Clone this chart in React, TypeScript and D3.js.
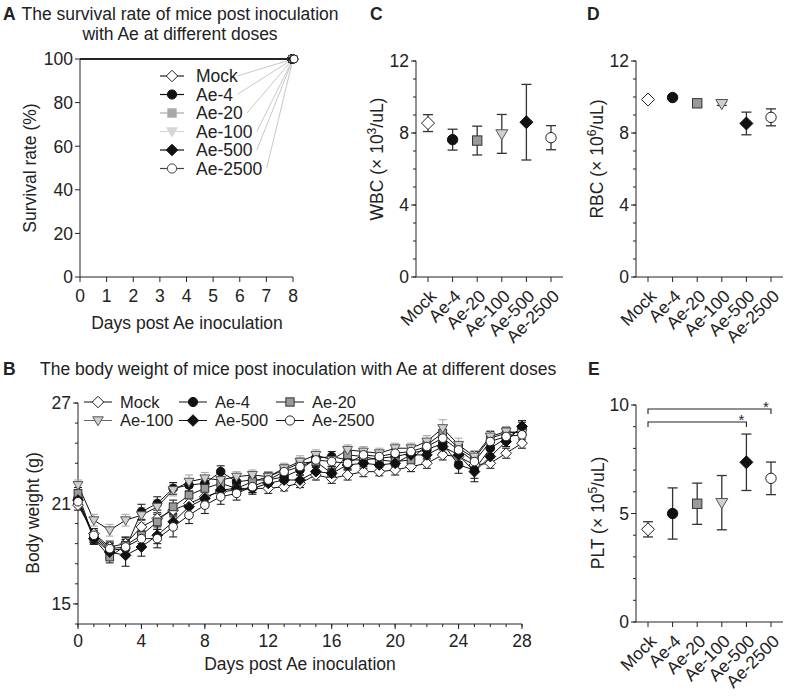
import React from "react";
import * as d3 from "d3";

const FONT = "'Liberation Sans', Arial, Helvetica, sans-serif";
const FS = 17.5;
const INK = "#222";

// groups shared by all panels
const groups = ["Mock", "Ae-4", "Ae-20", "Ae-100", "Ae-500", "Ae-2500"];

// A: survival
const survivalDays = [0, 8];
const survivalRate = [100, 100];

// B: body weight (g), days 0..28
const days = [0, 1, 2, 3, 4, 5, 6, 7, 8, 9, 10, 11, 12, 13, 14, 15, 16, 17, 18, 19, 20, 21, 22, 23, 24, 25, 26, 27, 28];
const weightMock = [20.9, 19.2, 18.4, 18.6, 19.6, 20.1, 20.6, 21.0, 21.4, 21.7, 21.8, 21.9, 21.9, 22.0, 22.2, 22.7, 22.5, 22.7, 22.9, 22.9, 23.0, 23.2, 23.4, 23.9, 23.8, 23.3, 23.4, 24.0, 24.6];
const weightAe4 = [21.3, 19.0, 18.2, 18.3, 20.5, 21.0, 21.9, 22.1, 22.2, 22.9, 22.3, 22.4, 22.4, 22.6, 23.0, 23.7, 23.8, 23.6, 23.6, 23.7, 23.8, 24.0, 24.2, 24.6, 23.3, 23.0, 24.3, 24.9, 25.5];
const weightAe20 = [21.6, 18.9, 17.8, 18.5, 19.1, 19.9, 20.8, 21.5, 21.9, 22.2, 21.9, 22.3, 22.6, 23.0, 23.4, 23.5, 22.8, 23.9, 23.8, 23.6, 23.5, 23.6, 24.5, 25.2, 24.3, 23.7, 24.9, 25.2, 25.3];
const weightAe100 = [22.1, 20.0, 19.4, 20.0, 20.3, 20.8, 21.8, 22.3, 22.5, 22.4, 22.6, 22.7, 22.6, 23.1, 23.5, 23.9, 23.6, 24.2, 24.1, 24.0, 24.3, 24.3, 24.7, 25.5, 24.5, 23.8, 25.0, 25.3, 25.2];
const weightAe500 = [21.2, 18.9, 18.1, 17.9, 18.4, 19.1, 19.9, 20.8, 21.3, 21.8, 21.9, 21.9, 22.2, 22.4, 22.4, 22.9, 22.8, 23.3, 23.4, 23.3, 23.4, 23.9, 23.9, 24.4, 23.9, 22.9, 23.8, 24.7, 25.6];
const weightAe2500 = [21.1, 19.1, 18.3, 18.4, 18.9, 18.9, 19.6, 20.3, 20.9, 21.4, 21.6, 22.0, 22.4, 22.9, 23.2, 23.6, 23.5, 23.4, 23.9, 23.8, 24.0, 24.1, 24.4, 24.9, 24.2, 23.5, 24.7, 25.0, 25.1];
const sdMock = [0.3, 0.3, 0.35, 0.35, 0.4, 0.35, 0.3, 0.3, 0.3, 0.3, 0.3, 0.25, 0.3, 0.25, 0.25, 0.3, 0.3, 0.3, 0.3, 0.25, 0.3, 0.3, 0.3, 0.3, 0.3, 0.3, 0.3, 0.3, 0.3];
const sdAe4 = [0.3, 0.35, 0.4, 0.45, 0.45, 0.4, 0.35, 0.35, 0.4, 0.35, 0.3, 0.3, 0.35, 0.3, 0.3, 0.35, 0.3, 0.35, 0.3, 0.3, 0.3, 0.35, 0.3, 0.35, 0.5, 0.5, 0.35, 0.3, 0.35];
const sdAe20 = [0.35, 0.3, 0.35, 0.5, 0.5, 0.45, 0.4, 0.45, 0.4, 0.35, 0.3, 0.3, 0.3, 0.3, 0.3, 0.35, 0.4, 0.35, 0.3, 0.3, 0.3, 0.4, 0.3, 0.4, 0.35, 0.4, 0.4, 0.35, 0.3];
const sdAe100 = [0.3, 0.35, 0.35, 0.35, 0.45, 0.4, 0.35, 0.4, 0.35, 0.35, 0.3, 0.3, 0.3, 0.3, 0.35, 0.3, 0.35, 0.3, 0.3, 0.3, 0.3, 0.3, 0.35, 0.5, 0.4, 0.35, 0.35, 0.3, 0.3];
const sdAe500 = [0.3, 0.35, 0.4, 0.65, 0.55, 0.5, 0.45, 0.5, 0.5, 0.4, 0.35, 0.35, 0.35, 0.3, 0.3, 0.3, 0.3, 0.3, 0.3, 0.3, 0.3, 0.3, 0.3, 0.35, 0.45, 0.6, 0.4, 0.3, 0.35];
const sdAe2500 = [0.3, 0.3, 0.35, 0.45, 0.5, 0.55, 0.6, 0.5, 0.5, 0.45, 0.4, 0.35, 0.3, 0.3, 0.3, 0.3, 0.3, 0.3, 0.3, 0.3, 0.3, 0.3, 0.3, 0.35, 0.35, 0.35, 0.3, 0.3, 0.3];

// C, D, E: blood counts (mean, sd) per group
const wbcMean = [8.55, 7.63, 7.58, 7.95, 8.6, 7.74];
const wbcSd = [0.47, 0.58, 0.8, 1.08, 2.1, 0.67];
const rbcMean = [9.86, 9.97, 9.65, 9.63, 8.53, 8.87];
const rbcSd = [0.06, 0.08, 0.15, 0.1, 0.63, 0.47];
const pltMean = [4.27, 5.0, 5.45, 5.5, 7.36, 6.62];
const pltSd = [0.35, 1.18, 0.95, 1.25, 1.3, 0.75];
const pltSig = [
  { from: "Mock", to: "Ae-2500", label: "*", level: 0 },
  { from: "Mock", to: "Ae-500", label: "*", level: 1 },
];

const bodySeries = [
  { group: "Mock", values: weightMock, sd: sdMock },
  { group: "Ae-4", values: weightAe4, sd: sdAe4 },
  { group: "Ae-20", values: weightAe20, sd: sdAe20 },
  { group: "Ae-100", values: weightAe100, sd: sdAe100 },
  { group: "Ae-500", values: weightAe500, sd: sdAe500 },
  { group: "Ae-2500", values: weightAe2500, sd: sdAe2500 },
];

type Sym = { shape: string; fill: string; stroke: string };
const symbols: Record<string, Sym> = {
  Mock: { shape: "diamond", fill: "#fff", stroke: INK },
  "Ae-4": { shape: "circle", fill: "#111", stroke: "#111" },
  "Ae-20": { shape: "square", fill: "#9a9a9a", stroke: "#333" },
  "Ae-100": { shape: "triangle", fill: "#cfcfcf", stroke: "#555" },
  "Ae-500": { shape: "diamond", fill: "#111", stroke: "#111" },
  "Ae-2500": { shape: "circle", fill: "#fff", stroke: INK },
};
// panel A legend uses lighter greys
const symbolsA: Record<string, Sym & { line: string }> = {
  Mock: { shape: "diamond", fill: "#fff", stroke: INK, line: INK },
  "Ae-4": { shape: "circle", fill: "#111", stroke: "#111", line: "#111" },
  "Ae-20": { shape: "square", fill: "#a8a8a8", stroke: "#a8a8a8", line: "#a8a8a8" },
  "Ae-100": { shape: "triangle", fill: "#d6d6d6", stroke: "#d6d6d6", line: "#d6d6d6" },
  "Ae-500": { shape: "diamond", fill: "#111", stroke: "#111", line: "#111" },
  "Ae-2500": { shape: "circle", fill: "#fff", stroke: "#444", line: "#444" },
};

function Marker({ shape, x, y, r, fill, stroke }: any) {
  if (shape === "circle")
    return <circle cx={x} cy={y} r={r} fill={fill} stroke={stroke} strokeWidth={1} />;
  if (shape === "square")
    return <rect x={x - r * 0.9} y={y - r * 0.9} width={r * 1.8} height={r * 1.8} fill={fill} stroke={stroke} strokeWidth={1} />;
  if (shape === "diamond") {
    const d = r * 1.25;
    return <path d={`M${x},${y - d}L${x + d},${y}L${x},${y + d}L${x - d},${y}Z`} fill={fill} stroke={stroke} strokeWidth={1} />;
  }
  const w = r * 1.15;
  return <path d={`M${x - w},${y - r * 0.8}L${x + w},${y - r * 0.8}L${x},${y + r * 1.15}Z`} fill={fill} stroke={stroke} strokeWidth={1} />;
}

function YAxis({ x, scale, major, minor = [] }: any) {
  const [y0, y1] = scale.range();
  return (
    <g>
      <line x1={x} x2={x} y1={y0} y2={y1} stroke={INK} />
      {minor.map((v: number) => (
        <line key={"m" + v} x1={x - 3} x2={x} y1={scale(v)} y2={scale(v)} stroke={INK} />
      ))}
      {major.map((v: number) => (
        <g key={v}>
          <line x1={x - 5} x2={x} y1={scale(v)} y2={scale(v)} stroke={INK} />
          <text x={x - 7} y={scale(v)} dy="0.36em" textAnchor="end">{v}</text>
        </g>
      ))}
    </g>
  );
}

function XAxisLinear({ y, scale, major, minor = [], labelOffset = 25 }: any) {
  const [x0, x1] = scale.range();
  return (
    <g>
      <line x1={x0} x2={x1} y1={y} y2={y} stroke={INK} />
      {minor.map((v: number) => (
        <line key={"m" + v} x1={scale(v)} x2={scale(v)} y1={y} y2={y + 3} stroke={INK} />
      ))}
      {major.map((v: number) => (
        <g key={v}>
          <line x1={scale(v)} x2={scale(v)} y1={y} y2={y + 5} stroke={INK} />
          <text x={scale(v)} y={y + labelOffset} textAnchor="middle">{v}</text>
        </g>
      ))}
    </g>
  );
}

function YLabel({ x, y, pre, sup, post }: any) {
  return (
    <text transform={`translate(${x},${y}) rotate(-90)`} textAnchor="middle">
      {pre}
      {sup && <tspan dy={-7} fontSize={12}>{sup}</tspan>}
      {post && <tspan dy={sup ? 7 : 0}>{post}</tspan>}
    </text>
  );
}

function DotPanel({ axisX, axisEnd, xRange, yScale, major, minor, means, sds, label }: any) {
  const x = d3.scalePoint<string>().domain(groups).range(xRange);
  const y0 = yScale.range()[0];
  return (
    <g>
      <YAxis x={axisX} scale={yScale} major={major} minor={minor} />
      <line x1={axisX} x2={axisEnd} y1={y0} y2={y0} stroke={INK} />
      {groups.map((g) => (
        <g key={g}>
          <line x1={x(g)} x2={x(g)} y1={y0} y2={y0 + 5} stroke={INK} />
          <text transform={`translate(${(x(g) as number) + 5},${y0 + 16}) rotate(-45)`} textAnchor="end" dy="0.35em">{g}</text>
        </g>
      ))}
      {groups.map((g, i) => {
        const cx = x(g) as number;
        const top = yScale(means[i] + sds[i]);
        const bot = yScale(means[i] - sds[i]);
        const s = symbols[g];
        return (
          <g key={"d" + g}>
            <line x1={cx} x2={cx} y1={top} y2={bot} stroke="#333" strokeWidth={1.3} />
            <line x1={cx - 5} x2={cx + 5} y1={top} y2={top} stroke="#333" strokeWidth={1.3} />
            <line x1={cx - 5} x2={cx + 5} y1={bot} y2={bot} stroke="#333" strokeWidth={1.3} />
            <Marker shape={s.shape} x={cx} y={yScale(means[i])} r={5.2} fill={s.fill} stroke={s.stroke} />
          </g>
        );
      })}
      {label}
    </g>
  );
}

export default function App() {
  // ---- panel A
  const xA = d3.scaleLinear().domain([0, 8]).range([80, 293]);
  const yA = d3.scaleLinear().domain([0, 100]).range([277, 59]);
  const legendAY = (i: number) => 76 + i * 18.5;

  // ---- panel B
  const xB = d3.scaleLinear().domain([0, 28]).range([78, 522]);
  const yB = d3.scaleLinear().domain([13.8, 27]).range([624, 403]);
  const lineB = d3.line<number>().x((_, i) => xB(days[i])).y((v) => yB(v));
  const legendB = [
    { g: "Mock", x: 98, y: 402 },
    { g: "Ae-4", x: 193, y: 402 },
    { g: "Ae-20", x: 290, y: 402 },
    { g: "Ae-100", x: 98, y: 420.5 },
    { g: "Ae-500", x: 193, y: 420.5 },
    { g: "Ae-2500", x: 290, y: 420.5 },
  ];

  // ---- panels C, D, E
  const yC = d3.scaleLinear().domain([0, 12]).range([277, 61]);
  const yD = d3.scaleLinear().domain([0, 12]).range([277, 61]);
  const yE = d3.scaleLinear().domain([0, 10]).range([622, 405]);
  const xE = d3.scalePoint<string>().domain(groups).range([648, 771]);

  return (
    <div style={{ position: "absolute", left: 0, top: 0 }}>
      <svg width={794} height={699} fontFamily={FONT} fontSize={FS} fill={INK} style={{ display: "block", background: "#fff" }}>
        {/* ================= A ================= */}
        <text x={3} y={20} fontWeight="bold">A</text>
        <text x={180} y={20} textAnchor="middle">The survival rate of mice post inoculation</text>
        <text x={180} y={40} textAnchor="middle">with Ae at different doses</text>
        <YAxis x={80} scale={yA} major={[0, 20, 40, 60, 80, 100]} />
        <XAxisLinear y={277} scale={xA} major={[0, 1, 2, 3, 4, 5, 6, 7, 8]} />
        <YLabel x={36} y={168} pre="Survival rate (%)" />
        <text x={187} y={329} textAnchor="middle">Days post Ae inoculation</text>
        {groups.map((g) => (
          <path
            key={"sl" + g}
            d={d3.line<number>().x((_, i) => xA(survivalDays[i])).y((v) => yA(v))(survivalRate) as string}
            fill="none"
            stroke={INK}
            strokeWidth={1}
          />
        ))}
        {groups.map((g, i) => {
          const s = symbolsA[g];
          const y = legendAY(i);
          const textEnd = 196 + g.length * 0.56 * FS;
          return (
            <g key={"la" + g}>
              <line x1={textEnd + 2} y1={y} x2={xA(survivalDays[1])} y2={yA(survivalRate[1])} stroke="#c8c8c8" strokeWidth={1} />
              <line x1={160} x2={184} y1={y} y2={y} stroke={s.line} strokeWidth={1.2} />
              <Marker shape={s.shape} x={172} y={y} r={4.6} fill={s.fill} stroke={s.stroke} />
              <text x={196} y={y} dy="0.36em">{g}</text>
            </g>
          );
        })}
        {groups.map((g, i) => {
          const s = symbols[g];
          return (
            <Marker key={"sm" + g} shape={s.shape} x={xA(survivalDays[1]) - 2 + i * 0.6} y={yA(survivalRate[1])} r={4} fill={s.fill} stroke={s.stroke} />
          );
        })}

        {/* ================= B ================= */}
        <text x={3} y={375} fontWeight="bold">B</text>
        <text x={40} y={375}>The body weight of mice post inoculation with Ae at different doses</text>
        <YAxis x={78} scale={yB} major={[15, 21, 27]} minor={d3.range(13.8, 27.01, 1.2)} />
        <XAxisLinear y={624} scale={xB} major={[0, 4, 8, 12, 16, 20, 24, 28]} minor={days} labelOffset={23} />
        <YLabel x={39} y={513} pre="Body weight (g)" />
        <text x={300} y={670} textAnchor="middle">Days post Ae inoculation</text>
        {bodySeries.map((s) => (
          <path key={"bl" + s.group} d={lineB(s.values) as string} fill="none" stroke="#111" strokeWidth={1} />
        ))}
        {bodySeries.map((s) => (
          <g key={"be" + s.group} stroke={s.group === "Ae-100" ? "#aaa" : "#222"} strokeWidth={1.1}>
            {s.values.map((v, i) => {
              const cx = xB(days[i]);
              const t = yB(v + s.sd[i]);
              const b = yB(v - s.sd[i]);
              return (
                <g key={i}>
                  <line x1={cx} x2={cx} y1={t} y2={b} />
                  <line x1={cx - 4} x2={cx + 4} y1={t} y2={t} />
                  <line x1={cx - 4} x2={cx + 4} y1={b} y2={b} />
                </g>
              );
            })}
          </g>
        ))}
        {bodySeries.map((s) => {
          const sym = symbols[s.group];
          return (
            <g key={"bm" + s.group}>
              {s.values.map((v, i) => (
                <Marker key={i} shape={sym.shape} x={xB(days[i])} y={yB(v)} r={4.3} fill={sym.fill} stroke={sym.stroke} />
              ))}
            </g>
          );
        })}
        {legendB.map((l) => {
          const sym = symbols[l.g];
          return (
            <g key={"lb" + l.g}>
              <line x1={l.x - 14} x2={l.x + 14} y1={l.y} y2={l.y} stroke={l.g === "Ae-100" ? "#666" : "#111"} />
              <Marker shape={sym.shape} x={l.x} y={l.y} r={4.6} fill={sym.fill} stroke={sym.stroke} />
              <text x={l.x + 22} y={l.y} dy="0.36em" fontSize={16.5}>{l.g}</text>
            </g>
          );
        })}

        {/* ================= C ================= */}
        <text x={370} y={20} fontWeight="bold">C</text>
        <DotPanel
          axisX={416}
          axisEnd={563}
          xRange={[428, 551]}
          yScale={yC}
          major={[0, 4, 8, 12]}
          minor={d3.range(0, 13, 1)}
          means={wbcMean}
          sds={wbcSd}
          label={<YLabel x={383} y={159} pre="WBC (× 10" sup="3" post="/uL)" />}
        />

        {/* ================= D ================= */}
        <text x={587} y={20} fontWeight="bold">D</text>
        <DotPanel
          axisX={636}
          axisEnd={783}
          xRange={[648, 771]}
          yScale={yD}
          major={[0, 4, 8, 12]}
          minor={d3.range(0, 13, 1)}
          means={rbcMean}
          sds={rbcSd}
          label={<YLabel x={603} y={159} pre="RBC (× 10" sup="6" post="/uL)" />}
        />

        {/* ================= E ================= */}
        <text x={588} y={375} fontWeight="bold">E</text>
        <DotPanel
          axisX={636}
          axisEnd={783}
          xRange={[648, 771]}
          yScale={yE}
          major={[0, 5, 10]}
          minor={d3.range(0, 11, 1)}
          means={pltMean}
          sds={pltSd}
          label={<YLabel x={604} y={513} pre="PLT (× 10" sup="5" post="/uL)" />}
        />
        {pltSig.map((s) => {
          const ly = 409 + s.level * 13;
          const x1 = xE(s.from) as number;
          const x2 = xE(s.to) as number;
          return (
            <g key={s.to}>
              <path d={`M${x1},${ly + 5}V${ly}H${x2}V${ly + 5}`} fill="none" stroke={INK} strokeWidth={1.1} />
              <text x={x2 - 5} y={ly + 3} textAnchor="middle" fontSize={15}>{s.label}</text>
            </g>
          );
        })}
      </svg>
    </div>
  );
}
